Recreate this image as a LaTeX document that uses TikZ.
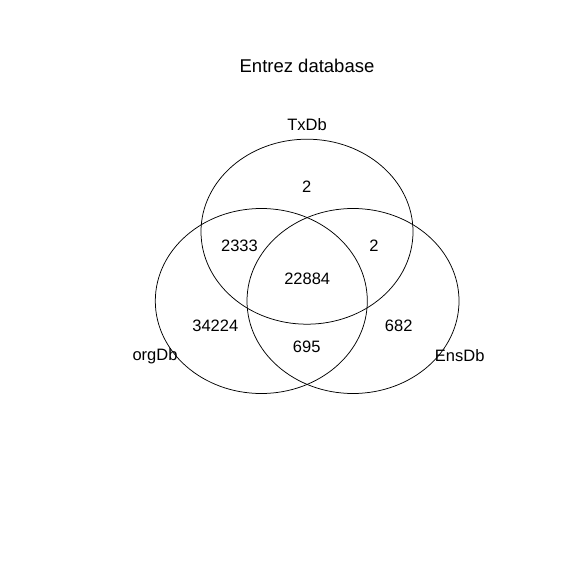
\documentclass[tikz,border=0pt]{standalone}
\usepackage{fontspec}
\setmainfont{Liberation Sans}
\usetikzlibrary{shapes.geometric}

\begin{document}
\begin{tikzpicture}[x=1bp, y=-1bp,
        set/.style=
            {
                ellipse,
                draw = black,
                line width = 0.75bp,
                inner sep = 0pt,
                minimum width = 212bp,
                minimum height = 185bp
            },
        count/.style=
            {
                anchor = base,
                inner sep = 0pt,
                font = \fontsize{16.5bp}{20bp}\selectfont
            },
        title/.style=
            {
                anchor = base,
                inner sep = 0pt,
                font = \fontsize{18.5bp}{22bp}\selectfont
            }
    ]

    \useasboundingbox (0,0) rectangle (576,576);

    \draw (307,72.7) node[title] (head) {Entrez database};

    \draw (307,231.7) node[set] (txdb) {};
    \draw (261.3,301) node[set] (orgdb) {};
    \draw (353,301) node[set] (ensdb) {};

    \draw (307,130.7) node[count] (ltx) {TxDb};
    \draw (155,360.7) node[count] (lorg) {orgDb};
    \draw (459.7,361) node[count] (lens) {EnsDb};

    \draw (306.7,192.7) node[count] (ctx) {2};
    \draw (239.5,251.7) node[count] (ctxorg) {2333};
    \draw (374,251.7) node[count] (ctxens) {2};
    \draw (307.2,284.3) node[count] (call) {22884};
    \draw (215.3,331.7) node[count] (corg) {34224};
    \draw (398.7,331.7) node[count] (cens) {682};
    \draw (306.7,352.3) node[count] (corgens) {695};

\end{tikzpicture}
\end{document}
